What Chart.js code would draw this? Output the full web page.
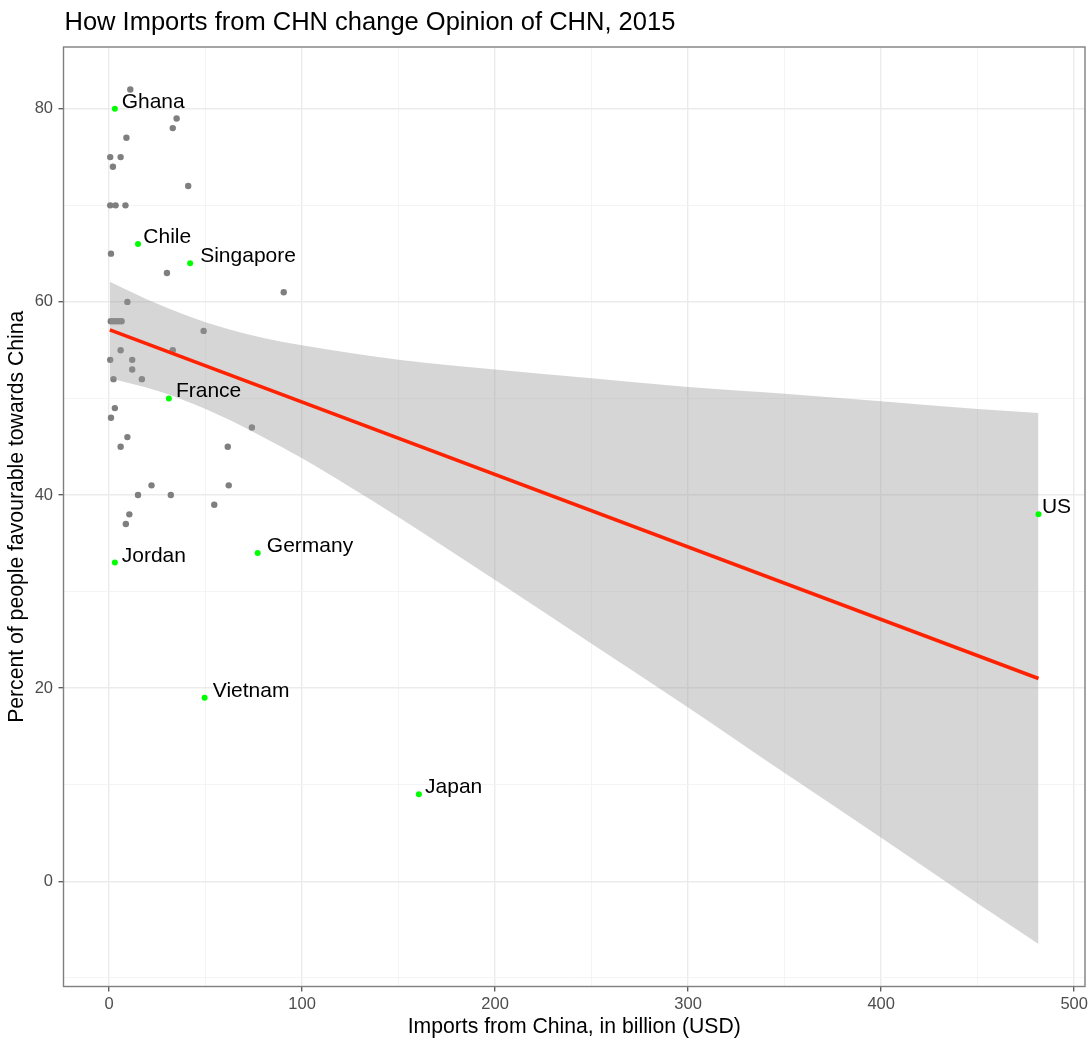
<!DOCTYPE html>
<html>
<head>
<meta charset="utf-8">
<script src="https://cdn.jsdelivr.net/npm/chart.js@4.4.0/dist/chart.umd.min.js"></script>
<style>
  body { margin: 0; background: #fff; }
  canvas { display: block; }
</style>
</head>
<body>
<canvas id="opinionChart" width="1092" height="1043"></canvas>
<script>
var chartTitle = "How Imports from CHN change Opinion of CHN, 2015"
var xTitle = "Imports from China, in billion (USD)"
var yTitle = "Percent of people favourable towards China"

// all the other countries (grey dots)
var otherX = [11, 35, 33, 9, 0.6, 6, 2, 41, 0.6, 3.4, 8.5, 1, 30, 90.5, 9.5, 0.9, 2.3, 3.7, 5.1, 6.5, 49, 33, 6, 0.6, 12, 12, 2.3, 17, 3, 1, 74, 9.5, 6, 61.5, 62, 22, 15, 32, 54.5, 10.5, 8.7]
var otherY = [82, 79, 78, 77, 75, 75, 74, 72, 70, 70, 70, 65, 63, 61, 60, 58, 58, 58, 58, 58, 57, 55, 55, 54, 54, 53, 52, 52, 49, 48, 47, 46, 45, 45, 41, 41, 40, 40, 39, 38, 37]

// highlighted countries (green dots with names)
var labelNames = ["Ghana", "Chile", "Singapore", "France", "Jordan", "Germany", "Vietnam", "Japan", "US"]
var labelX = [3, 15, 42, 31, 3, 77, 49.5, 160.5, 481.5]
var labelY = [80, 66, 64, 50, 33, 34, 19, 9, 38]

// linear fit and its confidence band
var fitX = [0.4, 481.5]
var fitY = [57.1, 21.0]
var bandX = [0.4, 25, 50, 75, 100, 125, 150, 200, 250, 300, 350, 400, 450, 481.5]
var bandUpper = [62.1, 59.8, 57.9, 56.5, 55.5, 54.7, 54.0, 53.0, 52.1, 51.2, 50.5, 49.7, 48.9, 48.5]
var bandLower = [52.1, 50.8, 48.9, 46.5, 43.8, 40.8, 37.7, 31.2, 24.6, 18.0, 11.2, 4.5, -2.3, -6.5]

// axis ticks (major ones get labels, minor ones only grid lines)
var xTicks = [0, 50, 100, 150, 200, 250, 300, 350, 400, 450, 500]
var xMajor = [0, 100, 200, 300, 400, 500]
var yTicks = [-10, 0, 10, 20, 30, 40, 50, 60, 70, 80]
var yMajor = [0, 20, 40, 60, 80]

function toPoints(xs, ys) {
    var out = []
    for (var i = 0; i < xs.length; i++) {
        out.push({ x: xs[i], y: ys[i] })
    }
    return out
}

var fontFamily = '"Liberation Sans", Arial, Helvetica, sans-serif'
Chart.defaults.font.family = fontFamily

var panelPlugin = {
    id: 'panel',
    afterDatasetsDraw: function(chart) {
        var ctx = chart.ctx
        var xs = chart.scales.x
        var ys = chart.scales.y
        ctx.save()
        ctx.font = '21px ' + fontFamily
        ctx.fillStyle = '#000'
        ctx.textAlign = 'left'
        ctx.textBaseline = 'alphabetic'
        for (var i = 0; i < labelNames.length; i++) {
            var px = xs.getPixelForValue(labelX[i])
            var py = ys.getPixelForValue(labelY[i])
            var w = ctx.measureText(labelNames[i]).width
            ctx.fillText(labelNames[i], px + w * 0.1 + 0.5, py - 1)
        }
        ctx.restore()
    },
    afterDraw: function(chart) {
        var ctx = chart.ctx
        var a = chart.chartArea
        ctx.save()
        ctx.strokeStyle = '#7f7f7f'
        ctx.lineWidth = 1.4
        ctx.strokeRect(a.left, a.top, a.right - a.left, a.bottom - a.top)
        ctx.fillStyle = '#000'
        ctx.font = '25.5px ' + fontFamily
        ctx.textAlign = 'left'
        ctx.textBaseline = 'alphabetic'
        ctx.fillText(chartTitle, a.left + 1, 30)
        ctx.restore()
    }
}

function gridColor(major) {
    return function(c) {
        return major.indexOf(c.tick.value) >= 0 ? '#ebebeb' : '#f3f3f3'
    }
}
function gridWidth(major) {
    return function(c) {
        return major.indexOf(c.tick.value) >= 0 ? 1.4 : 0.9
    }
}
function tickColor(major) {
    return function(c) {
        return major.indexOf(c.tick.value) >= 0 ? '#555555' : 'rgba(0,0,0,0)'
    }
}

var ctx = document.getElementById('opinionChart').getContext('2d')
var opinionChart = new Chart(ctx, {
    type: 'scatter',
    data: {
        datasets: [{
            label: 'other',
            data: toPoints(otherX, otherY),
            backgroundColor: '#7f7f7f',
            borderWidth: 0,
            pointRadius: 3.2,
            order: 5
        }, {
            type: 'line',
            label: 'lower',
            data: toPoints(bandX, bandLower),
            borderWidth: 0,
            borderColor: 'rgba(0,0,0,0)',
            pointRadius: 0,
            cubicInterpolationMode: 'monotone',
            fill: false,
            order: 4
        }, {
            type: 'line',
            label: 'upper',
            data: toPoints(bandX, bandUpper),
            borderWidth: 0,
            borderColor: 'rgba(0,0,0,0)',
            backgroundColor: 'rgba(153,153,153,0.4)',
            pointRadius: 0,
            cubicInterpolationMode: 'monotone',
            fill: '-1',
            order: 3
        }, {
            type: 'line',
            label: 'fit',
            data: toPoints(fitX, fitY),
            borderColor: '#ff2200',
            borderWidth: 3.6,
            pointRadius: 0,
            fill: false,
            order: 2
        }, {
            label: 'highlight',
            data: toPoints(labelX, labelY),
            backgroundColor: '#00ff00',
            borderWidth: 0,
            pointRadius: 3,
            order: 1
        }]
    },
    options: {
        responsive: false,
        animation: false,
        devicePixelRatio: 1,
        events: [],
        layout: {
            padding: { top: 47, right: 7, left: 0, bottom: 0 }
        },
        scales: {
            x: {
                type: 'linear',
                min: -23.6,
                max: 505.6,
                afterBuildTicks: function(axis) {
                    axis.ticks = xTicks.map(function(v) { return { value: v } })
                },
                afterFit: function(axis) {
                    axis.height = 56.5
                    axis.paddingLeft = 0
                    axis.paddingRight = 0
                },
                ticks: {
                    autoSkip: false,
                    maxRotation: 0,
                    padding: 3,
                    color: '#4d4d4d',
                    font: { size: 16.5 },
                    callback: function(v) { return xMajor.indexOf(v) >= 0 ? String(v) : '' }
                },
                grid: {
                    color: gridColor(xMajor),
                    lineWidth: gridWidth(xMajor),
                    tickLength: 5,
                    tickColor: tickColor(xMajor),
                    tickWidth: 1.3
                },
                border: { display: false },
                title: {
                    display: true,
                    text: xTitle,
                    color: '#000',
                    font: { size: 21.2 },
                    padding: { top: 0, bottom: 3 }
                }
            },
            y: {
                type: 'linear',
                min: -10.9,
                max: 86.4,
                afterBuildTicks: function(axis) {
                    axis.ticks = yTicks.map(function(v) { return { value: v } })
                },
                afterFit: function(axis) {
                    axis.width = 63.5
                    axis.paddingTop = 0
                    axis.paddingBottom = 0
                },
                ticks: {
                    autoSkip: false,
                    padding: 5.5,
                    color: '#4d4d4d',
                    font: { size: 16.5 },
                    callback: function(v) { return yMajor.indexOf(v) >= 0 ? String(v) : '' }
                },
                grid: {
                    color: gridColor(yMajor),
                    lineWidth: gridWidth(yMajor),
                    tickLength: 5,
                    tickColor: tickColor(yMajor),
                    tickWidth: 1.3
                },
                border: { display: false },
                title: {
                    display: true,
                    text: yTitle,
                    color: '#000',
                    font: { size: 21.2 },
                    padding: { top: 4.5, bottom: 0 }
                }
            }
        },
        plugins: {
            legend: { display: false },
            tooltip: { enabled: false },
            title: { display: false }
        }
    },
    plugins: [panelPlugin]
});
</script>
</body>
</html>
